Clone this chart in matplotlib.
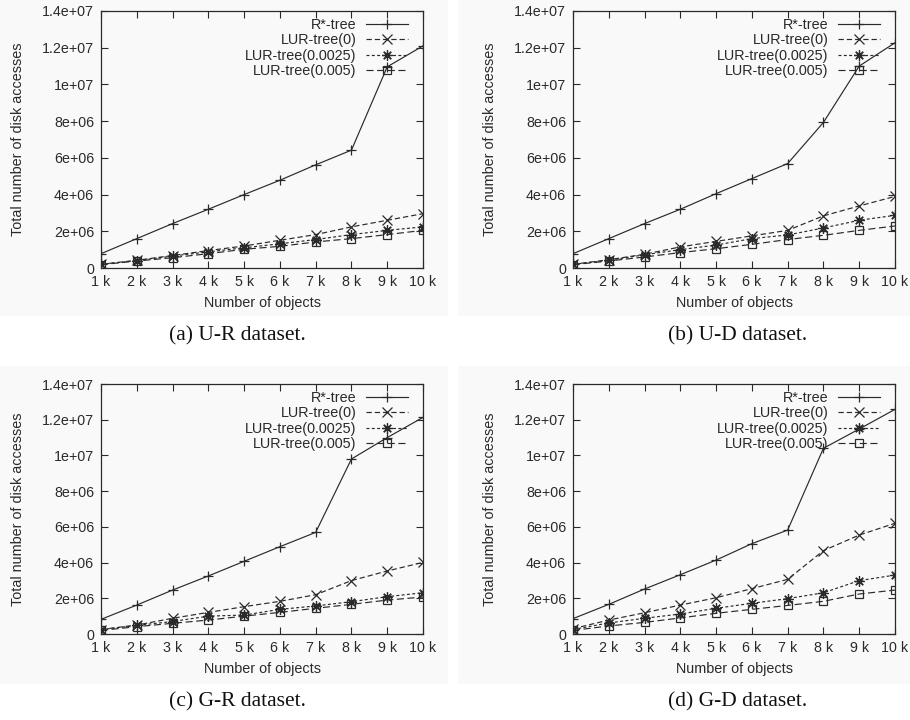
import matplotlib
matplotlib.use("Agg")
import matplotlib.pyplot as plt
from matplotlib.patches import Rectangle

# ---------------- data ----------------
x_objects = [1, 2, 3, 4, 5, 6, 7, 8, 9, 10]
x_ticklabels = ["1 k", "2 k", "3 k", "4 k", "5 k", "6 k", "7 k", "8 k", "9 k", "10 k"]
y_ticks = [0, 2e6, 4e6, 6e6, 8e6, 10e6, 12e6, 14e6]
y_ticklabels = ["0", "2e+06", "4e+06", "6e+06", "8e+06", "1e+07", "1.2e+07", "1.4e+07"]
series_names = ["R*-tree", "LUR-tree(0)", "LUR-tree(0.0025)", "LUR-tree(0.005)"]
captions = ["(a) U-R dataset.", "(b) U-D dataset.", "(c) G-R dataset.", "(d) G-D dataset."]

# (a) U-R
ur_rstar = [0.78e6, 1.60e6, 2.42e6, 3.20e6, 4.00e6, 4.78e6, 5.62e6, 6.42e6, 10.96e6, 12.10e6]
ur_lur0 = [0.20e6, 0.42e6, 0.68e6, 0.95e6, 1.20e6, 1.51e6, 1.82e6, 2.24e6, 2.60e6, 2.96e6]
ur_lur0025 = [0.20e6, 0.40e6, 0.65e6, 0.88e6, 1.10e6, 1.32e6, 1.55e6, 1.82e6, 2.05e6, 2.24e6]
ur_lur005 = [0.18e6, 0.38e6, 0.56e6, 0.78e6, 1.02e6, 1.18e6, 1.42e6, 1.60e6, 1.82e6, 2.05e6]
# (b) U-D
ud_rstar = [0.78e6, 1.60e6, 2.42e6, 3.20e6, 4.05e6, 4.87e6, 5.69e6, 7.93e6, 11.00e6, 12.27e6]
ud_lur0 = [0.20e6, 0.45e6, 0.75e6, 1.15e6, 1.45e6, 1.75e6, 2.05e6, 2.84e6, 3.38e6, 3.90e6]
ud_lur0025 = [0.20e6, 0.42e6, 0.72e6, 1.00e6, 1.25e6, 1.60e6, 1.80e6, 2.18e6, 2.60e6, 2.87e6]
ud_lur005 = [0.18e6, 0.38e6, 0.60e6, 0.84e6, 1.05e6, 1.29e6, 1.55e6, 1.78e6, 2.05e6, 2.29e6]
# (c) G-R
gr_rstar = [0.82e6, 1.62e6, 2.46e6, 3.25e6, 4.07e6, 4.89e6, 5.69e6, 9.80e6, 11.00e6, 12.13e6]
gr_lur0 = [0.25e6, 0.50e6, 0.88e6, 1.21e6, 1.53e6, 1.83e6, 2.20e6, 2.99e6, 3.53e6, 4.01e6]
gr_lur0025 = [0.25e6, 0.48e6, 0.70e6, 1.00e6, 1.06e6, 1.38e6, 1.57e6, 1.81e6, 2.09e6, 2.31e6]
gr_lur005 = [0.20e6, 0.41e6, 0.60e6, 0.78e6, 1.00e6, 1.21e6, 1.44e6, 1.66e6, 1.90e6, 2.07e6]
# (d) G-D
gd_rstar = [0.86e6, 1.66e6, 2.52e6, 3.32e6, 4.14e6, 5.06e6, 5.82e6, 10.40e6, 11.48e6, 12.58e6]
gd_lur0 = [0.30e6, 0.78e6, 1.19e6, 1.62e6, 2.03e6, 2.54e6, 3.06e6, 4.67e6, 5.54e6, 6.20e6]
gd_lur0025 = [0.25e6, 0.62e6, 0.88e6, 1.12e6, 1.44e6, 1.72e6, 1.98e6, 2.31e6, 2.99e6, 3.30e6]
gd_lur005 = [0.20e6, 0.45e6, 0.65e6, 0.90e6, 1.16e6, 1.38e6, 1.60e6, 1.83e6, 2.24e6, 2.46e6]

panels = [
    [ur_rstar, ur_lur0, ur_lur0025, ur_lur005],
    [ud_rstar, ud_lur0, ud_lur0025, ud_lur005],
    [gr_rstar, gr_lur0, gr_lur0025, gr_lur005],
    [gd_rstar, gd_lur0, gd_lur0025, gd_lur005],
]

# ---------------- style ----------------
W, H = 910, 720
plt.rcParams['font.family'] = ['Liberation Sans', 'DejaVu Sans']
ink = "#2a2a2a"
styles = [
    dict(linestyle='-', marker='+', markersize=7.5, mew=0.9),
    dict(linestyle=(0, (4.5, 2.5)), marker='x', markersize=6.5, mew=0.9),
    dict(linestyle=(0, (2.5, 2.0)), marker=(8, 2, 0), markersize=7.5, mew=0.9),
    dict(linestyle=(0, (6, 3)), marker='s', markersize=6, mew=0.9, fillstyle='none'),
]

fig = plt.figure(figsize=(W / 100, H / 100), dpi=100)
fig.patch.set_facecolor('white')

# very light gray backgrounds of the embedded plot pictures
for (px, py, pw, ph) in [(0, 0, 448, 316), (458, 0, 452, 316), (0, 366, 448, 318), (458, 366, 452, 318)]:
    fig.add_artist(Rectangle((px / W, 1 - (py + ph) / H), pw / W, ph / H,
                             transform=fig.transFigure, facecolor='#f9f9f9',
                             edgecolor='none', zorder=-10))

# axes boxes in pixels: left, top, right, bottom
boxes = [(101, 11, 423, 268), (573, 11, 895, 268), (101, 384, 423, 634), (573, 384, 895, 634)]
caption_xy = [(237, 336), (738, 336), (237, 702), (738, 702)]

for i, (l, t, r, b) in enumerate(boxes):
    ax = fig.add_axes([l / W, 1 - b / H, (r - l) / W, (b - t) / H])
    ax.set_facecolor('none')
    for s, vals in enumerate(panels[i]):
        ax.plot(x_objects, vals, color=ink, linewidth=0.85, label=series_names[s],
                markeredgecolor=ink, **styles[s])
    ax.set_xlim(1, 10)
    ax.set_ylim(0, 1.4e7)
    ax.set_xticks(x_objects)
    ax.set_xticklabels(x_ticklabels)
    ax.set_yticks(y_ticks)
    ax.set_yticklabels(y_ticklabels)
    ax.tick_params(direction='in', length=5, width=0.8, color=ink, labelcolor=ink,
                   labelsize=10.3, top=True, right=True, pad=5)
    for sp in ax.spines.values():
        sp.set_color(ink)
        sp.set_linewidth(0.9)
    ax.set_xlabel("Number of objects", fontsize=10.4, color=ink)
    ax.set_ylabel("Total number of disk accesses", fontsize=10.4, color=ink)
    h = b - t
    ax.xaxis.set_label_coords(0.5, -28 / h)
    ax.yaxis.set_label_coords(-76 / (r - l), 0.5)
    leg = ax.legend(loc='upper right', bbox_to_anchor=(1 - 15 / (r - l), 1 - 7 / h),
                    frameon=False, markerfirst=False, fontsize=10.4, handlelength=2.9,
                    handletextpad=0.65, labelspacing=0.1, borderaxespad=0, borderpad=0)
    for txt in leg.get_texts():
        txt.set_color(ink)
    fx, fy = caption_xy[i]
    fig.text(fx / W, 1 - fy / H, captions[i], ha='center', va='center', fontsize=15.5,
             family=['Liberation Serif', 'DejaVu Serif'], color='#111111')

fig.savefig("out.png", dpi=100, facecolor='white')
